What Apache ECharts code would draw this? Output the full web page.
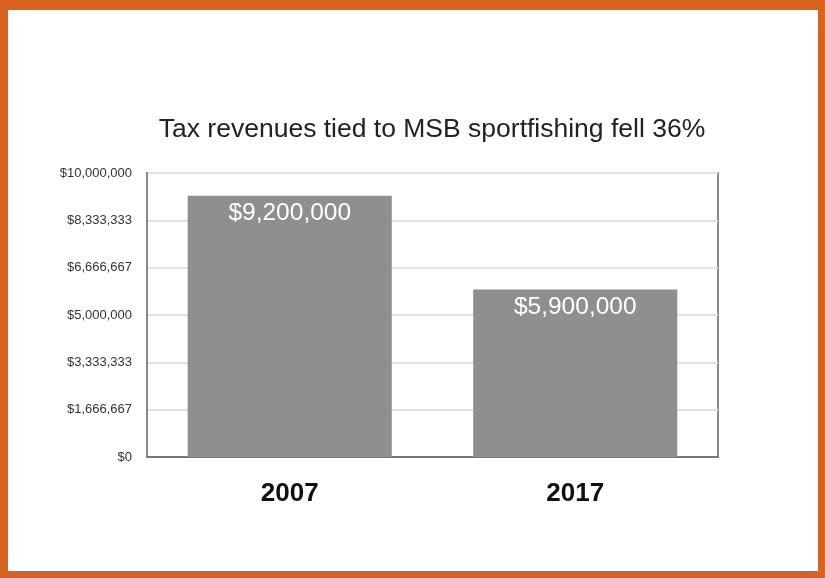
<!DOCTYPE html>
<html>
<head>
<meta charset="utf-8">
<script src="https://cdn.jsdelivr.net/npm/echarts@6/dist/echarts.min.js"></script>
<style>
html,body{margin:0;padding:0;background:#fff;}
#c{width:825px;height:578px;position:absolute;left:0;top:0;}
#frame{position:absolute;left:0;top:0;width:825px;height:578px;box-sizing:border-box;
border-style:solid;border-color:#d8621f;border-width:10px 7px 7px 8px;pointer-events:none;}
</style>
</head>
<body>
<div id="c"></div>
<div id="frame"></div>
<script>
const categories = ["2007", "2017"];
const revenues = [9200000, 5900000];
const yMin = 0;
const yMax = 10000000;
const yStep = 10000000 / 6;
const titleText = "Tax revenues tied to MSB sportfishing fell 36%";

function fmt(v){ return "$" + Math.round(v).toLocaleString("en-US"); }

const chart = echarts.init(document.getElementById("c"));
chart.setOption({
  backgroundColor: "#ffffff",
  animation: false,
  title: {
    text: titleText,
    left: 427, top: 111, textAlign: "center",
    textStyle: { fontFamily: "Liberation Sans", fontSize: 26.5, fontWeight: "normal", color: "#222" }
  },
  grid: { left: 147, right: 107, top: 173, bottom: 121, show: true, borderColor: "#888", borderWidth: 2, backgroundColor: "transparent" },
  xAxis: {
    type: "category", data: categories,
    axisLine: { show: true, lineStyle: { color: "#777", width: 2 } },
    axisTick: { show: false },
    axisLabel: { margin: 24, fontFamily: "Liberation Sans", fontSize: 26, fontWeight: "bold", color: "#111" }
  },
  yAxis: {
    type: "value", min: yMin, max: yMax, interval: yStep,
    axisLine: { show: true, lineStyle: { color: "#888", width: 2 } },
    axisTick: { show: false },
    splitLine: { lineStyle: { color: "#e2e2e2", width: 2 } },
    axisLabel: { margin: 15, formatter: fmt, fontFamily: "Liberation Sans", fontSize: 13, color: "#333" }
  },
  series: [{
    type: "bar", data: revenues, barWidth: "71.5%",
    itemStyle: { color: "#8f8f8f" },
    label: { show: true, position: "insideTop", distance: 5, formatter: p => fmt(p.value),
      fontFamily: "Liberation Sans", fontSize: 24.5, color: "#fff" }
  }]
});
</script>
</body>
</html>
